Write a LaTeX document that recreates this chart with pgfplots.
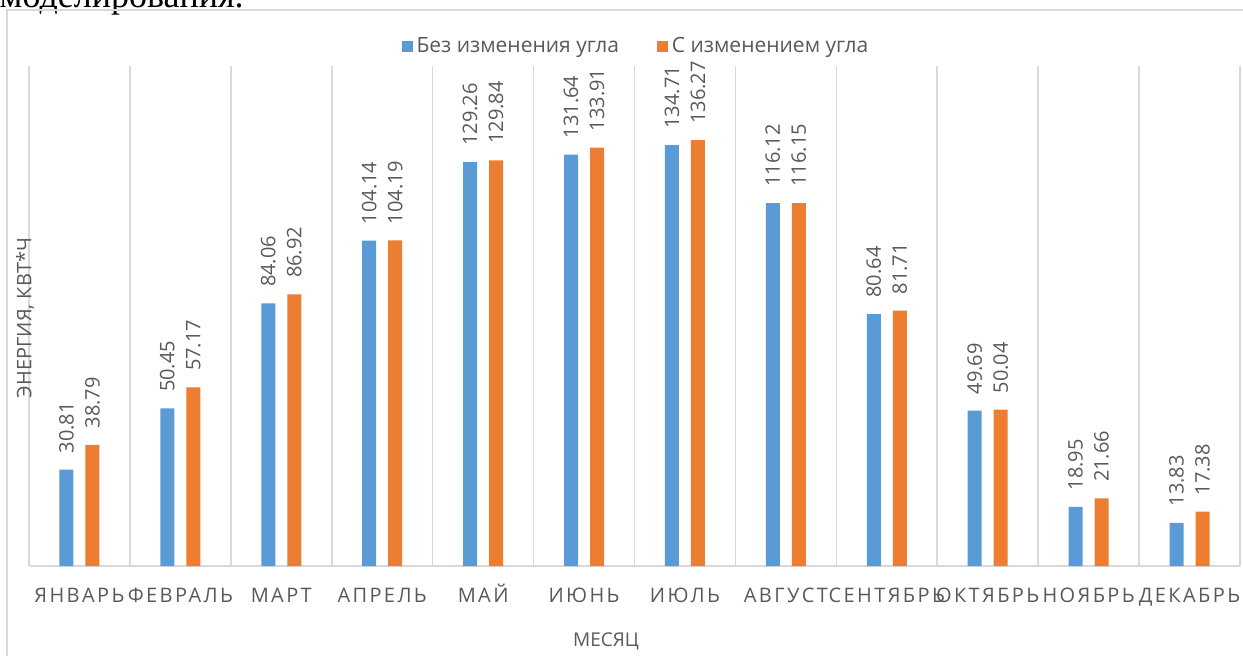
\documentclass[border=0pt]{standalone}
\usepackage{pgfplots}
\pgfplotsset{compat=1.18}
\usepackage{fontspec}
\setmainfont{Open Sans}
\newfontfamily\spaced[LetterSpace=12]{Open Sans}
\newfontfamily\seriffont{Liberation Serif}
\definecolor{cblue}{HTML}{5B9BD5}
\definecolor{corange}{HTML}{ED7D31}
\definecolor{cgrid}{HTML}{D9D9D9}
\definecolor{ctext}{HTML}{595959}

\begin{document}
\begin{tikzpicture}
\useasboundingbox (0,0) rectangle (621.5bp,-328bp);
\node[anchor=base east, inner sep=0pt, font=\seriffont\fontsize{18bp}{20bp}\selectfont] at (122bp,-3.5bp) {моделирования.};
\draw[cgrid, line width=1bp] (3.5bp,-5bp) rectangle (640bp,-340bp);
\begin{axis}[
  at={(14.5bp,-283bp)}, anchor=south west,
  width=605.5bp, height=250bp, scale only axis,
  xmin=-0.5, xmax=11.5, ymin=0, ymax=160,
  ybar=0pt, bar width=7bp,
  axis lines=left,
  axis line style={-},
  x axis line style={draw=cgrid, line width=0.8bp},
  y axis line style={draw=none},
  ytick=\empty,
  xtick={0,...,11},
  xticklabels={ЯНВАРЬ,ФЕВРАЛЬ,МАРТ,АПРЕЛЬ,МАЙ,ИЮНЬ,ИЮЛЬ,АВГУСТ,СЕНТЯБРЬ,ОКТЯБРЬ,НОЯБРЬ,ДЕКАБРЬ},
  xticklabel style={font=\spaced\fontsize{10bp}{12bp}\selectfont, text=ctext, anchor=base, yshift=-18bp},
  major tick length=0pt, minor tick length=0pt,
  minor xtick={-0.5,0.5,...,11.5},
  xminorgrids,
  minor x grid style={draw=cgrid, line width=0.8bp},
  clip=false,
  nodes near coords={\pgfmathprintnumber[fixed,fixed zerofill,precision=2,assume math mode=true]{\pgfplotspointmeta}},
  every node near coord/.append style={rotate=90, anchor=west, font=\fontsize{10bp}{12bp}\selectfont, text=ctext, inner xsep=8bp, inner ysep=0pt},
  legend columns=2,
  legend style={at={(0.502,1)}, anchor=south, yshift=1bp, draw=none, fill=none, font=\fontsize{10.5bp}{12bp}\selectfont, text=ctext,
    /tikz/every even column/.append style={column sep=17bp}},
  legend image code/.code={\fill[#1] (0bp,-2.75bp) rectangle (5.5bp,2.75bp);},
]
\addplot[fill=cblue, draw=none, bar shift=-6.5bp] coordinates {
(0,30.81) (1,50.45) (2,84.06) (3,104.14) (4,129.26) (5,131.64)
(6,134.71) (7,116.12) (8,80.64) (9,49.69) (10,18.95) (11,13.83)};
\addlegendentry{Без изменения угла}
\addplot[fill=corange, draw=none, bar shift=6.5bp] coordinates {
(0,38.79) (1,57.17) (2,86.92) (3,104.19) (4,129.84) (5,133.91)
(6,136.27) (7,116.15) (8,81.71) (9,50.04) (10,21.66) (11,17.38)};
\addlegendentry{С изменением угла}
\end{axis}
\node[text=ctext, font=\fontsize{9.5bp}{12bp}\selectfont] at (303bp,-320.5bp) {МЕСЯЦ};
\node[text=ctext, rotate=90, font=\fontsize{10bp}{12bp}\selectfont] at (12.5bp,-159bp) {ЭНЕРГИЯ, КВТ*Ч};
\end{tikzpicture}
\end{document}
